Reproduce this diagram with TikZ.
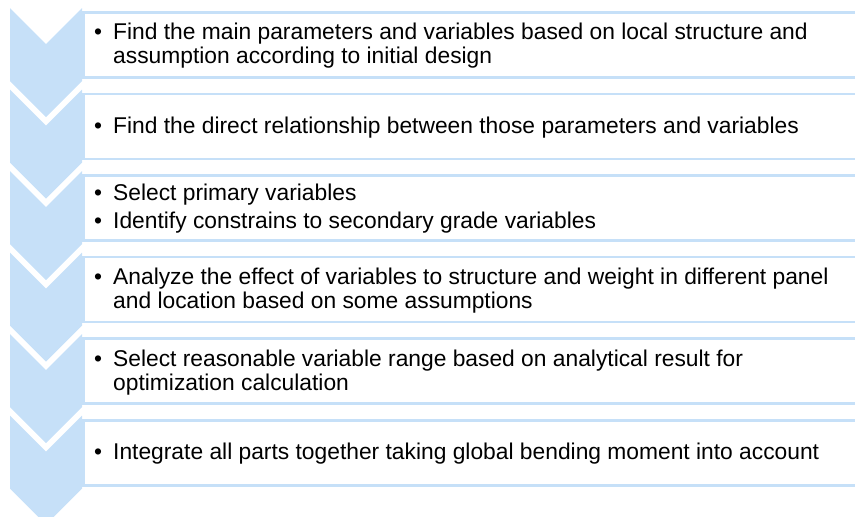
\documentclass[tikz,border=0pt]{standalone}
\usepackage{fontspec}
\setmainfont{Liberation Sans}
\definecolor{chev}{RGB}{198,224,248}
\definecolor{boxline}{RGB}{198,224,248}
\begin{document}
\begin{tikzpicture}[x=1pt,y=-1pt,
  stepbox/.style={draw=boxline,line width=2.6pt,fill=white,rectangle,anchor=north west,minimum width=800pt,minimum height=65pt,inner sep=0pt},
  chevshape/.style={fill=chev,draw=none},
  steptext/.style={anchor=west,inner sep=0pt,font=\fontsize{22.8}{24}\selectfont,align=left}]
\useasboundingbox (0,0) rectangle (855,517);
\clip (0,0) rectangle (855,517);
% chevrons
\foreach \k in {0,...,5}{
  \pgfmathsetmacro{\T}{8+81.5*\k}
  \fill[chevshape] (10,\T) -- (46,\T+36) -- (82,\T) -- (82,\T+73) -- (46,\T+109) -- (10,\T+73) -- cycle;
}
% boxes
\node[stepbox] (b1) at (82,11) {};
\node[stepbox] (b2) at (82,92.6) {};
\node[stepbox] (b3) at (82,174.2) {};
\node[stepbox] (b4) at (82,255.8) {};
\node[stepbox] (b5) at (82,337.4) {};
\node[stepbox] (b6) at (82,419) {};
% texts
\newcommand{\bl}{\makebox[19pt][l]{\textbullet}}
\node[steptext] (t1) at ([xshift=12pt,yshift=-2pt]b1.west) {\begin{tabular}{@{}l@{}l@{}}\bl&Find the main parameters and variables based on local structure and\\&assumption according to initial design\end{tabular}};
\node[steptext] (t2) at ([xshift=12pt,yshift=-2pt]b2.west) {\begin{tabular}{@{}l@{}l@{}}\bl&Find the direct relationship between those parameters and variables\end{tabular}};
\node[steptext] (t3) at ([xshift=12pt,yshift=-2pt]b3.west) {\begin{tabular}{@{}l@{}l@{}}\bl&Select primary variables\\[4pt]\bl&Identify constrains to secondary grade variables\end{tabular}};
\node[steptext] (t4) at ([xshift=12pt,yshift=-2pt]b4.west) {\begin{tabular}{@{}l@{}l@{}}\bl&Analyze the effect of variables to structure and weight in different panel\\&and location based on some assumptions\end{tabular}};
\node[steptext] (t5) at ([xshift=12pt,yshift=-2pt]b5.west) {\begin{tabular}{@{}l@{}l@{}}\bl&Select reasonable variable range based on analytical result for\\&optimization calculation\end{tabular}};
\node[steptext] (t6) at ([xshift=12pt,yshift=-2pt]b6.west) {\begin{tabular}{@{}l@{}l@{}}\bl&Integrate all parts together taking global bending moment into account\end{tabular}};
\end{tikzpicture}
\end{document}
